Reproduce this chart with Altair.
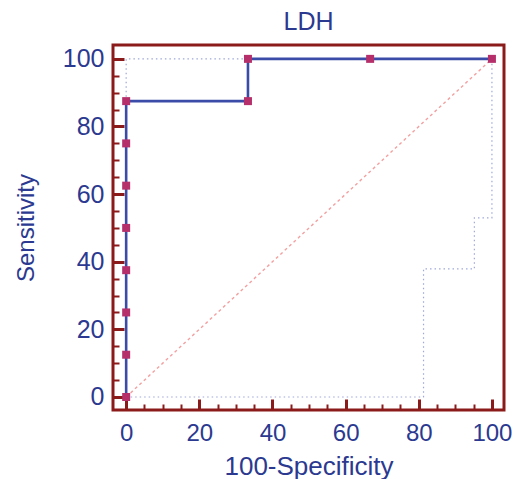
import altair as alt
import pandas as pd

# ROC curve points (100-Specificity, Sensitivity)
roc_x = [0, 0, 0, 0, 0, 0, 0, 0, 33.3, 33.3, 66.7, 100]
roc_y = [0, 12.5, 25, 37.5, 50, 62.5, 75, 87.5, 87.5, 100, 100, 100]

# Confidence bounds
ci_up_x = [0, 0, 100]
ci_up_y = [87.5, 100, 100]
ci_lo_x = [0, 81.3, 81.3, 95.2, 95.2, 100, 100]
ci_lo_y = [0, 0, 37.9, 37.9, 53, 53, 100]

# Reference diagonal
diag_x = [0, 100]
diag_y = [0, 100]

major_ticks = [0, 20, 40, 60, 80, 100]
all_ticks = list(range(0, 101, 5))

NAVY = "#2b3990"
FRAME = "#8b1a1a"
FONT = "Liberation Sans"
W, H = 391, 365

roc = pd.DataFrame({"x": roc_x, "y": roc_y, "i": range(len(roc_x))})
ci = pd.concat([
    pd.DataFrame({"x": ci_up_x, "y": ci_up_y, "i": range(len(ci_up_x)), "g": "up"}),
    pd.DataFrame({"x": ci_lo_x, "y": ci_lo_y, "i": range(len(ci_lo_x)), "g": "lo"}),
])
diag = pd.DataFrame({"x": diag_x, "y": diag_y})

xs = alt.Scale(domain=[-3.6, 103.3], nice=False, zero=False)
ys = alt.Scale(domain=[-3.85, 104.1], nice=False, zero=False)

tick_size = {"condition": {"test": "datum.value % 20 === 0", "value": 11}, "value": 6}
tick_width = {"condition": {"test": "datum.value % 20 === 0", "value": 3}, "value": 2}

ci_layer = alt.Chart(ci).mark_line(color="#9fa8da", strokeWidth=1.2, strokeDash=[1.5, 3]).encode(
    x=alt.X("x:Q", scale=xs, axis=None),
    y=alt.Y("y:Q", scale=ys, axis=None),
    detail="g:N",
    order="i:Q",
)

diag_layer = alt.Chart(diag).mark_line(color="#f2a0a0", strokeWidth=1.4, strokeDash=[3, 3]).encode(
    x=alt.X("x:Q", scale=xs, axis=alt.Axis(
        orient="top", offset=-H, values=all_ticks, labels=False, domain=False, grid=False,
        tickSize=tick_size, tickWidth=tick_width, tickColor=FRAME, title=None)),
    y=alt.Y("y:Q", scale=ys, axis=alt.Axis(
        orient="right", offset=-W, values=all_ticks, labels=False, domain=False, grid=False,
        tickSize=tick_size, tickWidth=tick_width, tickColor=FRAME, title=None)),
)

roc_line = alt.Chart(roc).mark_line(color="#3a4ca8", strokeWidth=2.6).encode(
    x=alt.X("x:Q", scale=xs, axis=alt.Axis(
        orient="bottom", values=major_ticks, ticks=False, domain=False, grid=False,
        labelFontSize=24, labelColor=NAVY, labelFont=FONT, labelPadding=11,
        title="100-Specificity", titleFontSize=26, titleColor=NAVY, titleFont=FONT,
        titleFontWeight="normal", titlePadding=8)),
    y=alt.Y("y:Q", scale=ys, axis=alt.Axis(
        orient="left", values=major_ticks, ticks=False, domain=False, grid=False,
        labelFontSize=25, labelColor=NAVY, labelFont=FONT, labelPadding=9,
        title="Sensitivity", titleFontSize=24, titleColor=NAVY, titleFont=FONT,
        titleFontWeight="normal", titlePadding=24)),
    order="i:Q",
)

roc_pts = alt.Chart(roc).mark_square(color="#b5306a", size=64, opacity=1).encode(
    x=alt.X("x:Q", scale=xs, axis=None),
    y=alt.Y("y:Q", scale=ys, axis=None),
)

chart = alt.layer(ci_layer, diag_layer, roc_line, roc_pts).resolve_axis(
    x="independent", y="independent"
).properties(
    width=W,
    height=H,
    title=alt.TitleParams("LDH", fontSize=25, color=NAVY, font=FONT, fontWeight="normal", offset=10),
    autosize=alt.AutoSizeParams(type="none"),
    padding={"left": 105, "top": 37, "right": 8, "bottom": 69},
).configure(background="white").configure_view(stroke=FRAME, strokeWidth=3)

chart.save("out.html", embed_options={"renderer": "svg", "actions": False})
